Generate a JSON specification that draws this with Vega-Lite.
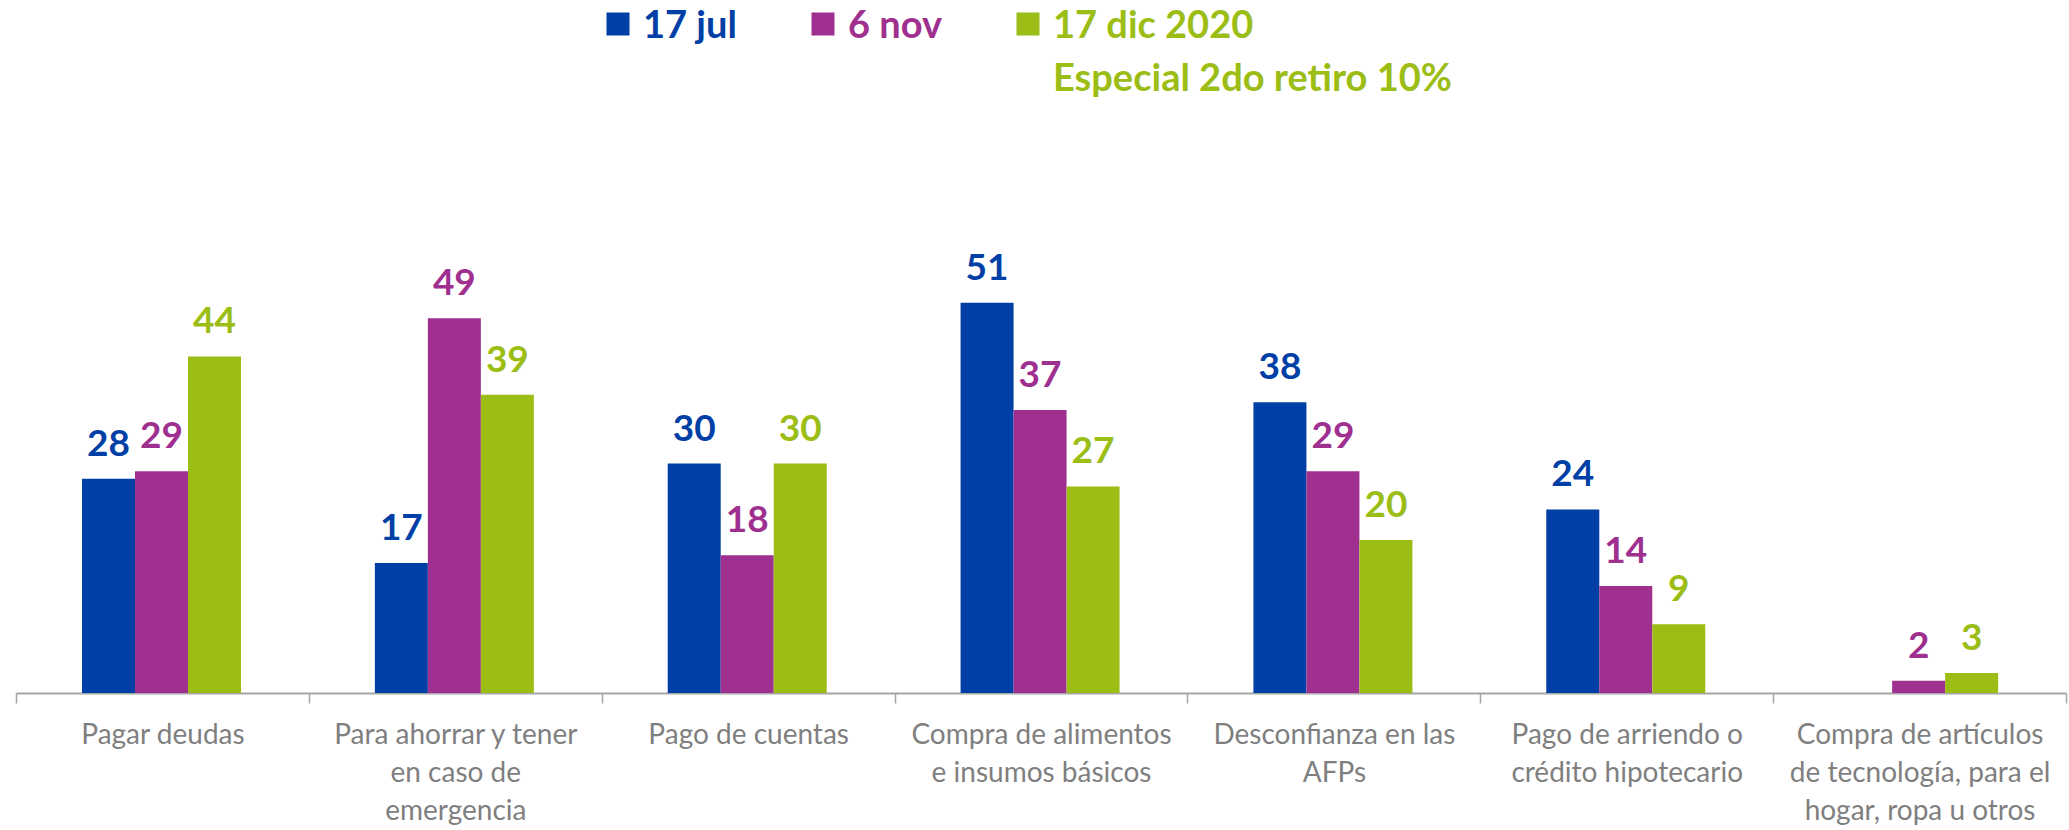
{
  "$schema": "https://vega.github.io/schema/vega-lite/v6.json",
  "width": 2050,
  "height": 459,
  "autosize": {"type": "none"},
  "padding": {"left": 16, "top": 234, "right": 3, "bottom": 137},
  "background": "white",
  "config": {"view": {"stroke": null}, "font": "Lato"},
  "data": {
    "values": [
      {"categoria": "Pagar deudas", "serie": "17 jul", "valor": 28},
      {"categoria": "Pagar deudas", "serie": "6 nov", "valor": 29},
      {"categoria": "Pagar deudas", "serie": "17 dic 2020", "valor": 44},
      {"categoria": "Para ahorrar y tener en caso de emergencia", "serie": "17 jul", "valor": 17},
      {"categoria": "Para ahorrar y tener en caso de emergencia", "serie": "6 nov", "valor": 49},
      {"categoria": "Para ahorrar y tener en caso de emergencia", "serie": "17 dic 2020", "valor": 39},
      {"categoria": "Pago de cuentas", "serie": "17 jul", "valor": 30},
      {"categoria": "Pago de cuentas", "serie": "6 nov", "valor": 18},
      {"categoria": "Pago de cuentas", "serie": "17 dic 2020", "valor": 30},
      {"categoria": "Compra de alimentos e insumos básicos", "serie": "17 jul", "valor": 51},
      {"categoria": "Compra de alimentos e insumos básicos", "serie": "6 nov", "valor": 37},
      {"categoria": "Compra de alimentos e insumos básicos", "serie": "17 dic 2020", "valor": 27},
      {"categoria": "Desconfianza en las AFPs", "serie": "17 jul", "valor": 38},
      {"categoria": "Desconfianza en las AFPs", "serie": "6 nov", "valor": 29},
      {"categoria": "Desconfianza en las AFPs", "serie": "17 dic 2020", "valor": 20},
      {"categoria": "Pago de arriendo o crédito hipotecario", "serie": "17 jul", "valor": 24},
      {"categoria": "Pago de arriendo o crédito hipotecario", "serie": "6 nov", "valor": 14},
      {"categoria": "Pago de arriendo o crédito hipotecario", "serie": "17 dic 2020", "valor": 9},
      {"categoria": "Compra de artículos de tecnología, para el hogar, ropa u otros", "serie": "6 nov", "valor": 1.6},
      {"categoria": "Compra de artículos de tecnología, para el hogar, ropa u otros", "serie": "17 dic 2020", "valor": 2.6}
    ]
  },
  "encoding": {
    "x": {
      "field": "categoria",
      "type": "nominal",
      "sort": null,
      "scale": {"paddingInner": 0, "paddingOuter": 0},
      "axis": {
        "title": null,
        "labelAngle": 0,
        "domainColor": "#A6A6A6",
        "domainWidth": 2,
        "tickColor": "#A6A6A6",
        "tickWidth": 1.5,
        "tickSize": 10,
        "tickBand": "extent",
        "labelFont": "Lato",
        "labelFontSize": 28,
        "labelColor": "#7F7F7F",
        "labelLineHeight": 38,
        "labelPadding": 18,
        "labelLimit": 500,
        "labelOverlap": false,
        "labelExpr": "datum.value == 'Para ahorrar y tener en caso de emergencia' ? ['Para ahorrar y tener', 'en caso de', 'emergencia'] : datum.value == 'Compra de alimentos e insumos básicos' ? ['Compra de alimentos', 'e insumos básicos'] : datum.value == 'Desconfianza en las AFPs' ? ['Desconfianza en las', 'AFPs'] : datum.value == 'Pago de arriendo o crédito hipotecario' ? ['Pago de arriendo o', 'crédito hipotecario'] : datum.value == 'Compra de artículos de tecnología, para el hogar, ropa u otros' ? ['Compra de artículos', 'de tecnología, para el', 'hogar, ropa u otros'] : datum.label"
      }
    },
    "xOffset": {
      "field": "serie",
      "type": "nominal",
      "scale": {"domain": ["17 jul", "6 nov", "17 dic 2020"], "range": [66, 225], "paddingInner": 0, "paddingOuter": 0}
    },
    "y": {
      "field": "valor",
      "type": "quantitative",
      "scale": {"domain": [0, 60]},
      "axis": null
    }
  },
  "layer": [
    {
      "mark": {"type": "bar"},
      "encoding": {
        "color": {
          "field": "serie",
          "type": "nominal",
          "scale": {"domain": ["17 jul", "6 nov", "17 dic 2020"], "range": ["#003FA6", "#A0308F", "#9BBD15"]},
          "legend": {
            "orient": "none",
            "legendX": 583,
            "legendY": -229,
            "direction": "horizontal",
            "title": null,
            "symbolType": "square",
            "symbolSize": 529,
            "symbolStrokeWidth": 0,
            "symbolOpacity": 1,
            "labelFont": "Lato",
            "labelFontWeight": "bold",
            "labelFontSize": 38,
            "labelOffset": 6,
            "labelBaseline": "top",
            "columnPadding": 67,
            "labelLimit": 700,
            "labelExpr": "datum.value == '17 dic 2020' ? ['17 dic 2020', 'Especial 2do retiro 10%'] : [datum.label, ' ']",
            "encode": {
              "labels": {
                "update": {
                  "fill": {"signal": "datum.value == '17 jul' ? '#003FA6' : datum.value == '6 nov' ? '#A0308F' : '#9BBD15'"},
                  "lineHeight": {"value": 53},
                  "dy": {"value": -16}
                }
              }
            }
          }
        }
      }
    },
    {
      "mark": {"type": "text", "baseline": "alphabetic", "dy": -23, "font": "Lato", "fontWeight": "bold", "fontSize": 37},
      "encoding": {
        "text": {"field": "valor", "type": "quantitative", "format": ".0f"},
        "color": {"field": "serie", "type": "nominal", "legend": null}
      }
    }
  ]
}
